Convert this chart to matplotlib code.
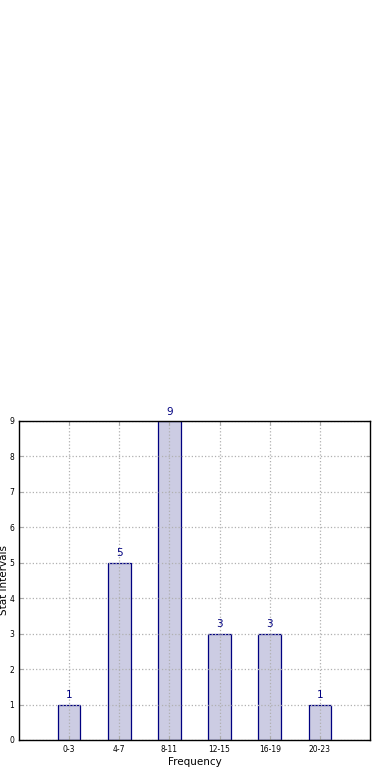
import matplotlib
matplotlib.use('Agg')
import matplotlib.pyplot as plt

# 数据
intervals = ['0-3', '4-7', '8-11', '12-15', '16-19', '20-23']
counts = [1, 5, 9, 3, 3, 1]

fig = plt.figure(figsize=(3.9, 7.8), dpi=100)
ax = fig.add_axes([0.0487, 0.0513, 0.9, 0.409])

pos = range(len(intervals))
ax.bar(pos, counts, width=0.45, color='#ccccE3', edgecolor='navy', linewidth=0.9, zorder=2)
for i, c in zip(pos, counts):
    ax.text(i, c + 0.12, '%d' % c, ha='center', va='bottom', color='navy', fontsize=7.5)

ax.set_xlim(-1, 6)
ax.set_ylim(0, 9)
ax.set_xticks(list(pos))
ax.set_xticklabels(intervals)
ax.set_yticks(range(10))
ax.tick_params(direction='in', top=True, right=True, labelsize=5.5, length=3, color='#aaaaaa')
ax.grid(True, linestyle=':', color='#b0b0b0', linewidth=0.9, zorder=0)
ax.set_axisbelow(False)
ax.set_xlabel('Frequency', fontsize=7.5, labelpad=2)
ax.set_ylabel('Stat Intervals', fontsize=7.5)
ax.yaxis.set_label_coords(-0.028, 0.5)
for s in ax.spines.values():
    s.set_linewidth(1)
    s.set_zorder(5)

fig.savefig('out.png', dpi=100)
